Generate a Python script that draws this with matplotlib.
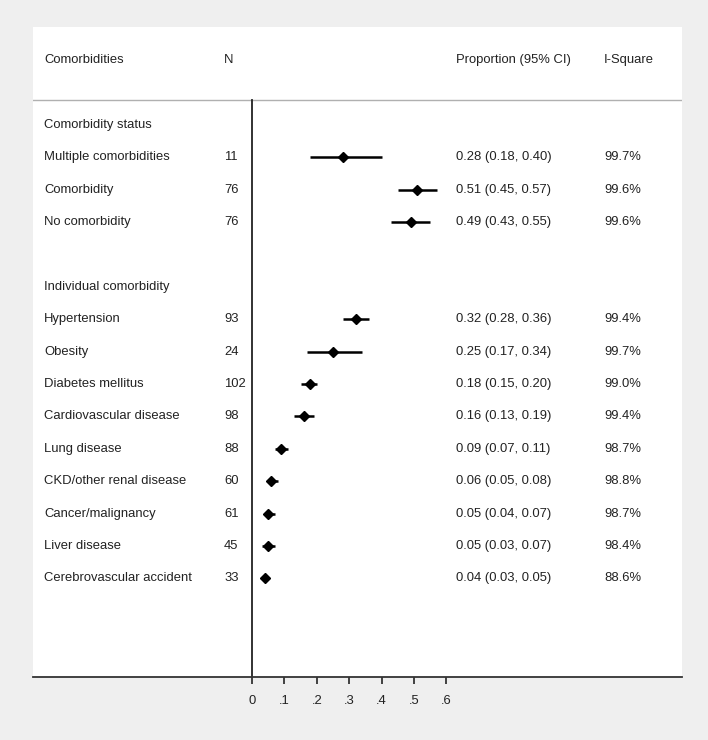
import matplotlib.pyplot as plt

plt.rcParams['font.family'] = ['Liberation Sans', 'DejaVu Sans']

# rows: (label, N, estimate, lower, upper, I-square); None = heading/blank
labels = ['Comorbidity status', 'Multiple comorbidities', 'Comorbidity', 'No comorbidity', '',
          'Individual comorbidity', 'Hypertension', 'Obesity', 'Diabetes mellitus',
          'Cardiovascular disease', 'Lung disease', 'CKD/other renal disease',
          'Cancer/malignancy', 'Liver disease', 'Cerebrovascular accident']
n = [None, 11, 76, 76, None, None, 93, 24, 102, 98, 88, 60, 61, 45, 33]
est = [None, 0.28, 0.51, 0.49, None, None, 0.32, 0.25, 0.18, 0.16, 0.09, 0.06, 0.05, 0.05, 0.04]
lo = [None, 0.18, 0.45, 0.43, None, None, 0.28, 0.17, 0.15, 0.13, 0.07, 0.05, 0.04, 0.03, 0.03]
hi = [None, 0.40, 0.57, 0.55, None, None, 0.36, 0.34, 0.20, 0.19, 0.11, 0.08, 0.07, 0.07, 0.05]
isq = [None, '99.7%', '99.6%', '99.6%', None, None, '99.4%', '99.7%', '99.0%', '99.4%',
       '98.7%', '98.8%', '98.7%', '98.4%', '88.6%']
ticks = [0, 0.1, 0.2, 0.3, 0.4, 0.5, 0.6]
tick_labels = ['0', '.1', '.2', '.3', '.4', '.5', '.6']

fig = plt.figure(figsize=(7.08, 7.40), dpi=100)
fig.patch.set_facecolor('#efefef')
ax = fig.add_axes([33/708, 63/740, 649/708, 650/740])
ax.set_facecolor('white')

fs = 9.4
tc = '#222222'
x_lab, x_n, x_est, x_isq = -0.642, -0.086, 0.63, 1.086

# header
ax.text(x_lab, -2, 'Comorbidities', fontsize=fs, color=tc, va='center')
ax.text(x_n, -2, 'N', fontsize=fs, color=tc, va='center')
ax.text(x_est, -2, 'Proportion (95% CI)', fontsize=fs, color=tc, va='center')
ax.text(x_isq, -2, 'I-Square', fontsize=fs, color=tc, va='center')
ax.axhline(-0.77, color='#b0b0b0', lw=1)

for i, lab in enumerate(labels):
    if lab:
        ax.text(x_lab, i, lab, fontsize=fs, color=tc, va='center')
    if est[i] is None:
        continue
    ax.text(x_n, i, str(n[i]), fontsize=fs, color=tc, va='center')
    ax.text(x_est, i, '%.2f (%.2f, %.2f)' % (est[i], lo[i], hi[i]), fontsize=fs, color=tc, va='center')
    ax.text(x_isq, i, isq[i], fontsize=fs, color=tc, va='center')
    ax.plot([lo[i], hi[i]], [i, i], color='black', lw=1.8, solid_capstyle='butt')
    ax.plot(est[i], i, marker='D', color='black', ms=5.2)

ax.plot([0, 0], [-0.77, 17.04], color='#222222', lw=1.3)

ax.set_xlim(-0.676, 1.327)
ax.set_ylim(17.04, -3.02)
ax.set_xticks(ticks)
ax.set_xticklabels(tick_labels, fontsize=fs, color=tc)
ax.tick_params(axis='x', direction='out', length=5, width=1.3, color='#333333', pad=8)
ax.set_yticks([])
for s in ['top', 'left', 'right']:
    ax.spines[s].set_visible(False)
ax.spines['bottom'].set_linewidth(1.3)
ax.spines['bottom'].set_color('#333333')

fig.savefig('out.png', dpi=100, facecolor=fig.get_facecolor())
